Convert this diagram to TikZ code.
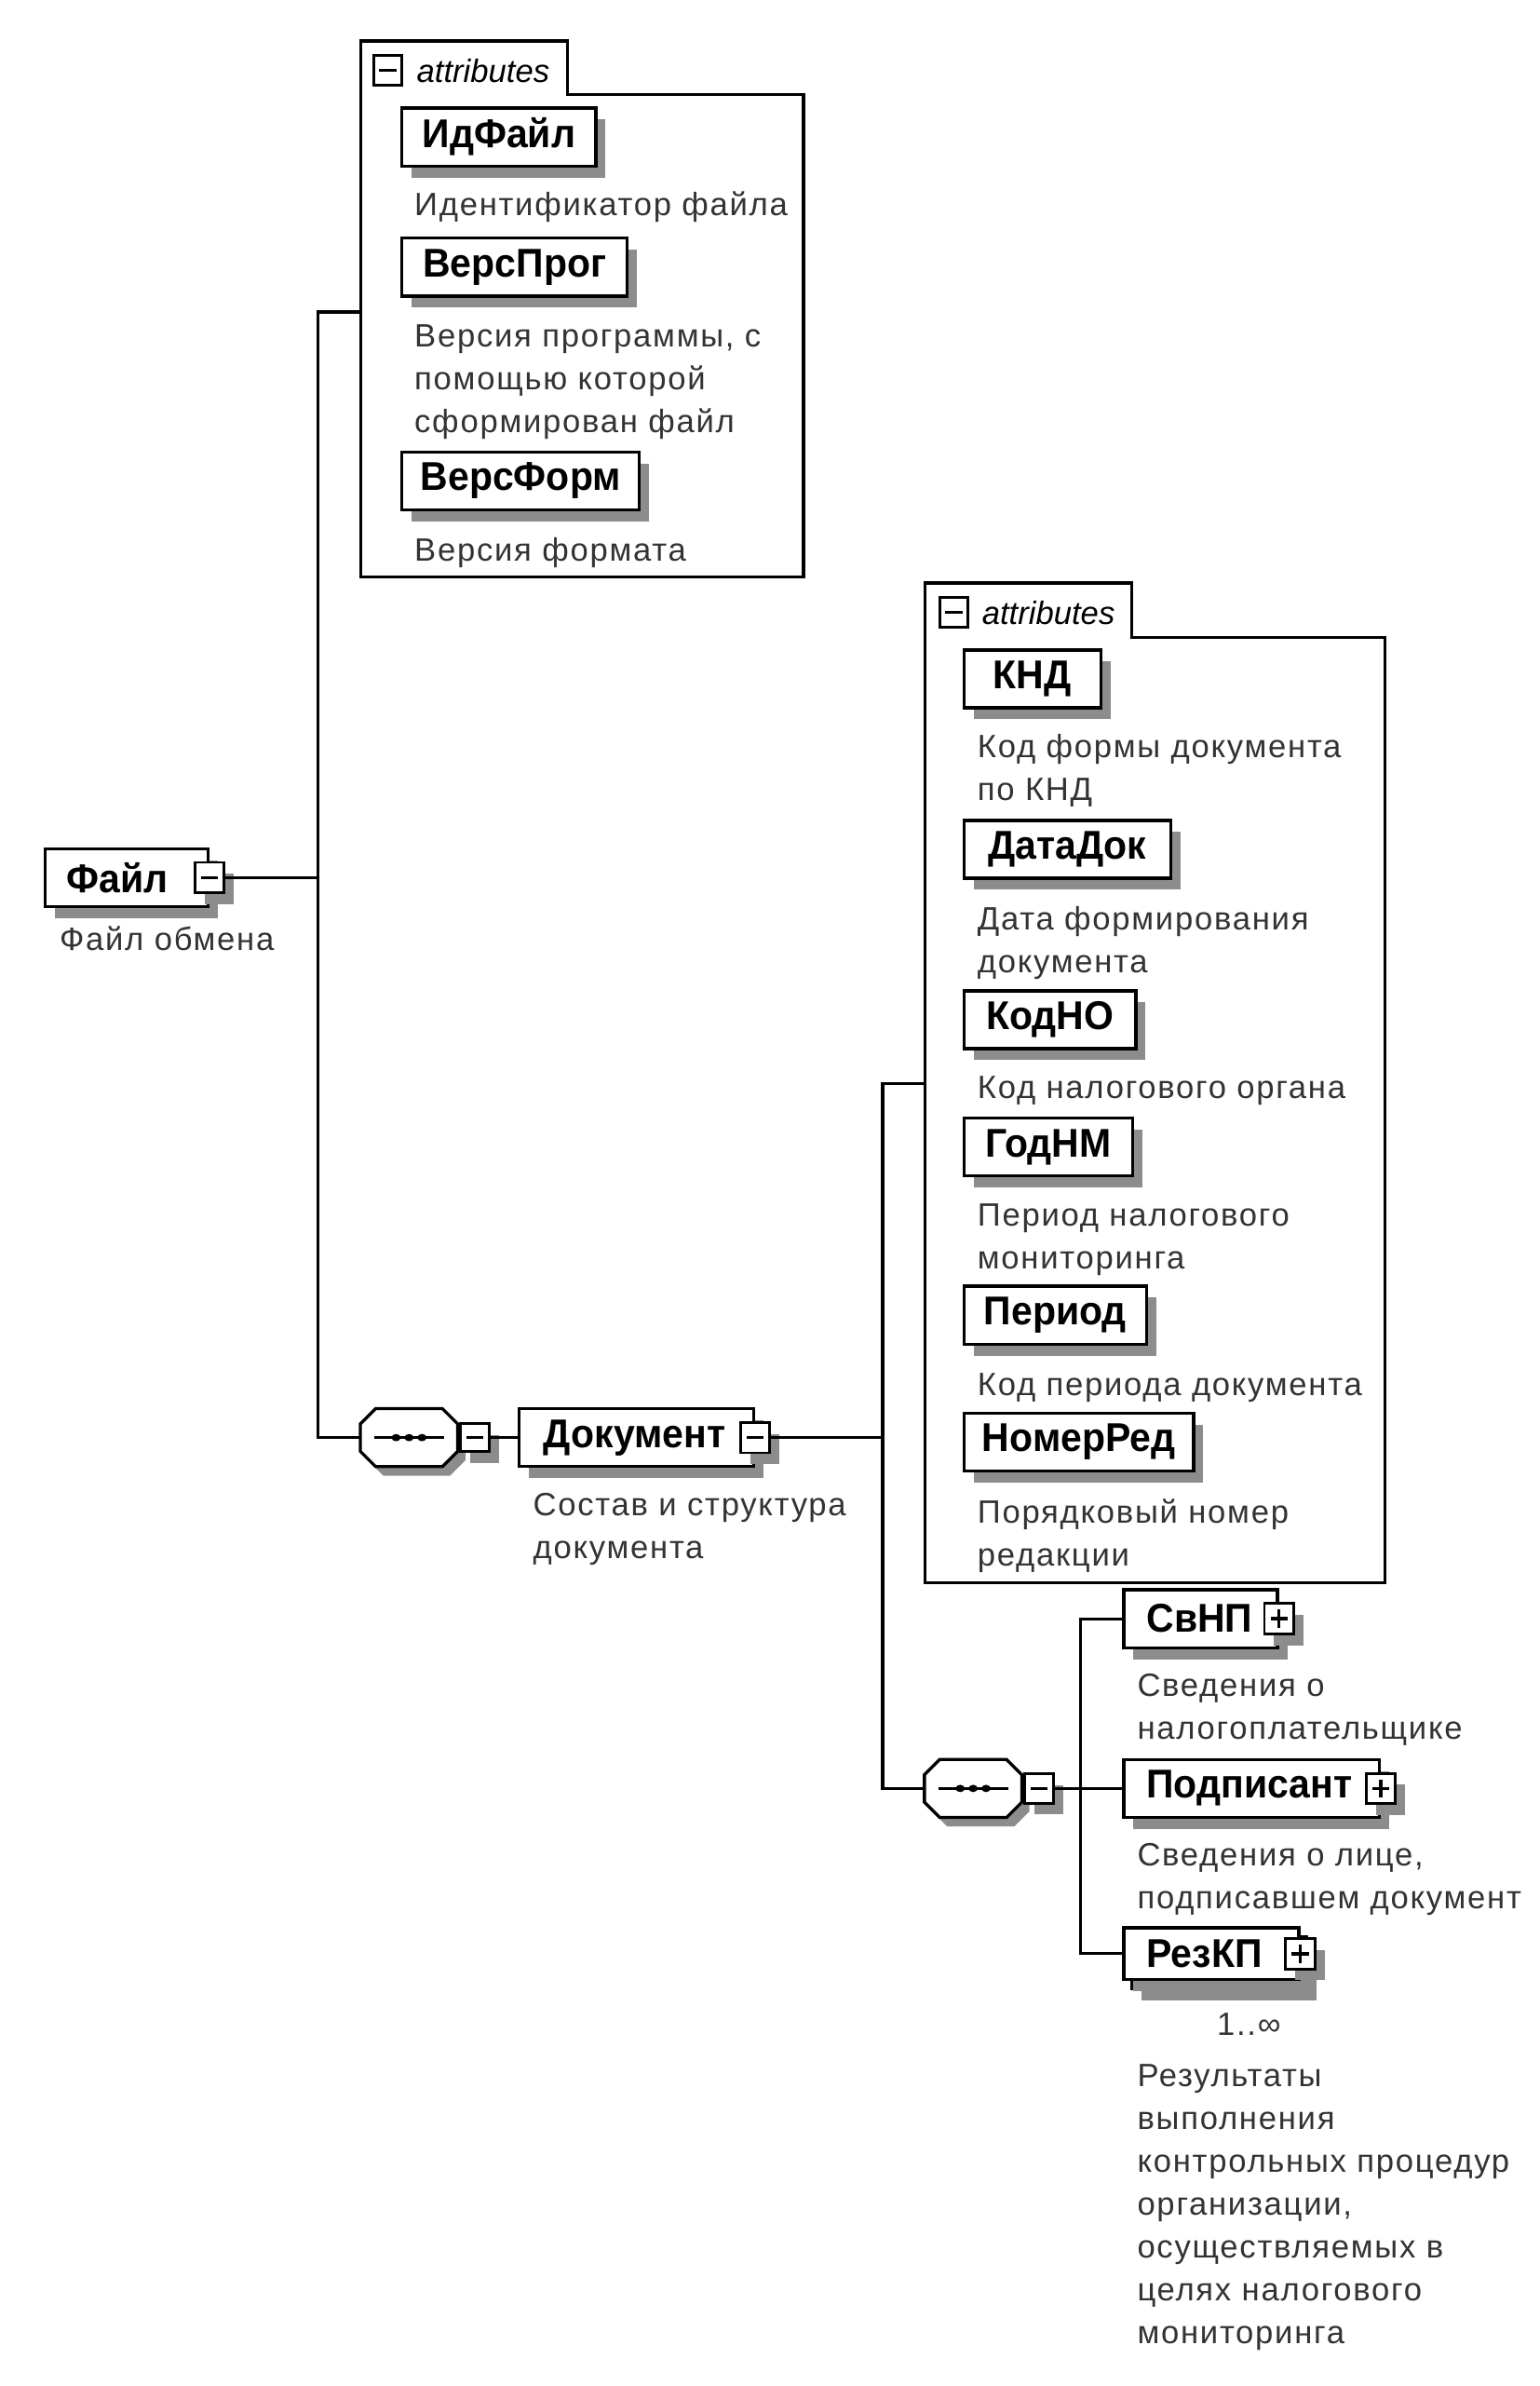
\documentclass[tikz,border=0pt]{standalone}
\usepackage{fontspec}
\setmainfont{Liberation Sans}
\newfontface\namefont[FakeStretch=0.95]{Liberation Sans Bold}
\newfontface\descfont[LetterSpace=5]{Liberation Sans}
\usetikzlibrary{shadows,calc}
\newcommand\seqshape[3]{%
  \fill[black!45] (#2-22+5,#3-19+6) -- (#2+22+5,#3-19+6) -- (#2+32+5,#3-9+6) -- (#2+32+5,#3+9+6) -- (#2+22+5,#3+19+6) -- (#2-22+5,#3+19+6) -- (#2-32+5,#3+9+6) -- (#2-32+5,#3-9+6) -- cycle;
  \draw[line width=1pt, fill=white] (#2-22,#3-19) -- (#2+22,#3-19) -- (#2+32,#3-9) -- (#2+32,#3+9) -- (#2+22,#3+19) -- (#2-22,#3+19) -- (#2-32,#3+9) -- (#2-32,#3-9) -- cycle;
  \draw[line width=1.1pt] (#2-23,#3) -- (#2+23,#3);
  \fill (#2-8.5,#3) circle[x radius=3, y radius=2.4];
  \fill (#2,#3) circle[x radius=3, y radius=2.4];
  \fill (#2+8.5,#3) circle[x radius=3, y radius=2.4];
  \node[minimum width=32pt, minimum height=19pt, inner sep=0pt] (#1) at (#2,#3) {};
}
\begin{document}
\begin{tikzpicture}[x=0.5pt,y=-0.5pt,
  conn/.style={line width=1pt},
  cont/.style={draw, line width=1pt},
  shad/.style={drop shadow={shadow xshift=3.2pt, shadow yshift=-3.8pt, fill=black!45, opacity=1}},
  elem/.style={draw, line width=1pt, fill=white, inner ysep=0pt, minimum height=19pt, font=\namefont\fontsize{13.2}{15}\selectfont, shad},
  minus/.style={draw, line width=0.9pt, fill=white, minimum width=9.6pt, minimum height=10pt, inner sep=0pt, shad,
    path picture={\draw[line width=1.1pt] ([xshift=2pt]path picture bounding box.west) -- ([xshift=-2pt]path picture bounding box.east);}},
  plus/.style={draw, line width=0.9pt, fill=white, minimum width=9.6pt, minimum height=10pt, inner sep=0pt, shad,
    path picture={\draw[line width=1.1pt] ([xshift=2pt]path picture bounding box.west) -- ([xshift=-2pt]path picture bounding box.east)
      ([yshift=-2pt]path picture bounding box.north) -- ([yshift=2pt]path picture bounding box.south);}},
  tabsq/.style={draw, line width=0.9pt, fill=white, minimum width=9.3pt, minimum height=9.8pt, inner sep=0pt,
    path picture={\draw[line width=1.1pt] ([xshift=1.8pt]path picture bounding box.west) -- ([xshift=-1.8pt]path picture bounding box.east);}},
  tabtxt/.style={inner sep=0pt, font=\itshape\fontsize{10.6}{13}\selectfont},
  desc/.style={anchor=north west, inner sep=0pt, align=left, font=\descfont\fontsize{10.6}{14.1}\selectfont, text=black!80},
]
\useasboundingbox (0,0) rectangle (1012,1567.6);

% ---------- root ----------
\node[elem, anchor=west, inner xsep=7.1pt] (file) at (28.6,576.6) {\makebox[39.3pt][l]{Файл}};
\node[minus] (filesq) at (file.east) {};
\node[desc] (filed) at (38.8,604) {\strut Файл обмена};

% ---------- attributes of Файл ----------
\draw[cont] (237,27) -- (373,27) -- (373,62) -- (528,62) -- (528,379) -- (237,379) -- cycle;
\node[tabsq] (a1sq) at (255,46.2) {};
\node[tabtxt, anchor=west] (a1t) at (273.5,46.5) {attributes};
\coordinate (a1in) at (237,205);
\node[elem, anchor=west, minimum width=63.7pt] (idf) at (263.2,90) {ИдФайл};
\node[desc] (idfd) at (272,121.5) {\strut Идентификатор файла};
\node[elem, anchor=west, minimum width=74pt] (vp) at (263.2,175.5) {ВерсПрог};
\node[desc] (vpd) at (272,207.5) {\strut Версия программы, с\\помощью которой\\сформирован файл};
\node[elem, anchor=west, minimum width=78pt] (vf) at (263.2,316) {ВерсФорм};
\node[desc] (vfd) at (272,348.5) {\strut Версия формата};

% ---------- sequence 1 and Документ ----------
\seqshape{seq1}{268.8}{944.5}
\node[minus, minimum height=9pt] (seq1sq) at (312,944.5) {};
\node[elem, anchor=west, inner xsep=8pt] (doc) at (340.3,944.5) {\makebox[61pt][l]{Документ}};
\node[minus] (docsq) at (doc.east) {};
\node[desc] (docd) at (350,975.5) {\strut Состав и структура\\документа};

\coordinate (j1) at (209,944.5);
\draw[conn] (a1in) -| (j1) -- (seq1.west);
\draw[conn] (filesq.east) -- (filesq.east -| j1);
\draw[conn] (seq1sq.east) -- (doc.west);

% ---------- attributes of Документ ----------
\draw[cont] (608,383) -- (743.6,383) -- (743.6,418.6) -- (910,418.6) -- (910,1040) -- (608,1040) -- cycle;
\node[tabsq] (a2sq) at (627,402.4) {};
\node[tabtxt, anchor=west] (a2t) at (645,402.7) {attributes};
\coordinate (a2in) at (608,712);
\node[elem, anchor=west, minimum width=45pt] (knd) at (632.4,446) {КНД};
\node[desc] (kndd) at (642,477.5) {\strut Код формы документа\\по КНД};
\node[elem, anchor=west, minimum width=68pt] (dd) at (632.4,558) {ДатаДок};
\node[desc] (ddd) at (642,590.5) {\strut Дата формирования\\документа};
\node[elem, anchor=west, minimum width=56.5pt] (kno) at (632.4,670) {КодНО};
\node[desc] (knod) at (642,701.5) {\strut Код налогового органа};
\node[elem, anchor=west, minimum width=55.5pt] (gnm) at (632.4,753.5) {ГодНМ};
\node[desc] (gnmd) at (642,785.5) {\strut Период налогового\\мониторинга};
\node[elem, anchor=west, minimum width=60pt] (per) at (632.4,864) {Период};
\node[desc] (perd) at (642,896.5) {\strut Код периода документа};
\node[elem, anchor=west, minimum width=75.5pt] (nr) at (632.4,947.5) {НомерРед};
\node[desc] (nrd) at (642,980.5) {\strut Порядковый номер\\редакции};

% ---------- sequence 2 and children ----------
\seqshape{seq2}{639.5}{1175}
\node[minus, minimum height=9.6pt] (seq2sq) at (683,1175) {};

\node[elem, anchor=west, inner xsep=7.5pt] (svnp) at (737.5,1063.5) {\makebox[35.5pt][l]{СвНП}};
\node[plus] (svnpsq) at (svnp.east) {};
\node[desc] (svnpd) at (747,1094.5) {\strut Сведения о\\налогоплательщике};

\node[elem, anchor=west, inner xsep=7.5pt] (podp) at (737.5,1175) {\makebox[69pt][l]{Подписант}};
\node[plus] (podpsq) at (podp.east) {};
\node[desc] (podpd) at (747,1205.5) {\strut Сведения о лице,\\подписавшем документ};

\node[elem, anchor=west, minimum width=57.5pt, minimum height=17pt] (rezb) at (742.5,1289.5) {};
\node[elem, anchor=west, inner xsep=7.5pt, minimum height=17pt] (rez) at (737.5,1283.5) {\makebox[42.5pt][l]{РезКП}};
\node[plus] (rezsq) at (rez.east) {};
\node[anchor=base east, inner sep=0pt, font=\descfont\fontsize{10.6}{14}\selectfont, text=black!80] (rezm) at (842,1337) {1..∞};
\node[desc] (rezd) at (747,1350.5) {\strut Результаты\\выполнения\\контрольных процедур\\организации,\\осуществляемых в\\целях налогового\\мониторинга};

\coordinate (j2) at (580,1175);
\draw[conn] (a2in) -| (j2) -- (seq2.west);
\draw[conn] (docsq.east) -- (docsq.east -| j2);

\coordinate (j3) at (710,1283.5);
\draw[conn] (svnp.west) -| (j3) -- (rez.west);
\draw[conn] (seq2sq.east) -- (podp.west);
\end{tikzpicture}
\end{document}
